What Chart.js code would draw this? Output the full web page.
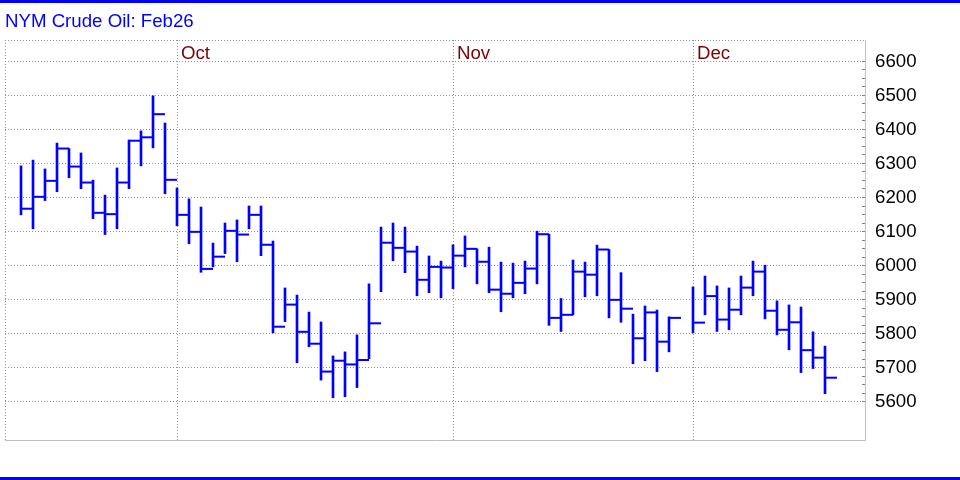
<!DOCTYPE html>
<html>
<head>
<meta charset="utf-8">
<title>NYM Crude Oil: Feb26</title>
<script src="https://cdn.jsdelivr.net/npm/chart.js@4.4.1/dist/chart.umd.min.js"></script>
<style>
  body { margin: 0; background: #fff; }
  #wrap { position: relative; width: 960px; height: 480px; }
  .rule { position: absolute; left: 0; width: 960px; height: 3px; background: #0000ff; }
</style>
</head>
<body>
<div id="wrap">
  <canvas id="chart" width="960" height="480"></canvas>
  <div class="rule" style="top:0"></div>
  <div class="rule" style="top:477px"></div>
</div>
<script>
// daily bars, one slot per weekday from Sep 12; slot 55 is Thanksgiving (no trade)
var highs = [6293, 6310, 6284, 6360, 6344, 6331, 6251, 6207, 6287, 6369, 6396, 6499, 6419,
  6228, 6196, 6172, 6066, 6125, 6134, 6175, 6175, 6072, 5934, 5913, 5863, 5834, 5734, 5746,
  5796, 5946, 6113, 6125, 6113, 6057, 6028, 6013,
  6061, 6087, 6049, 6054, 6010, 6007, 6013, 6101, 6092, 5903, 6016, 6010, 6060, 6047, 5979,
  5857, 5881, 5869, 5849, null,
  5937, 5969, 5940, 5934, 5969, 6013, 6001, 5896, 5884, 5878, 5805, 5763];
var lows = [6149, 6108, 6191, 6217, 6258, 6226, 6138, 6091, 6108, 6226, 6293, 6346, 6211,
  6117, 6064, 5980, 5996, 6035, 6011, 6108, 6029, 5802, 5835, 5714, 5761, 5663, 5611, 5614,
  5641, 5726, 5923, 6014, 5979, 5911, 5920, 5905,
  5932, 5996, 5946, 5920, 5864, 5905, 5917, 5946, 5824, 5806, 5855, 5908, 5911, 5846, 5833,
  5711, 5720, 5688, 5746, null,
  5802, 5855, 5806, 5811, 5855, 5911, 5843, 5796, 5752, 5685, 5697, 5623];
var closes = [6167, 6202, 6249, 6344, 6291, 6244, 6155, 6151, 6244, 6367, 6377, 6445, 6252,
  6149, 6099, 5990, 6026, 6102, 6091, 6149, 6061, 5820, 5885, 5805, 5770, 5688, 5720, 5709,
  5722, 5830, 6067, 6052, 6041, 5958, 5996, 5994,
  6029, 6049, 6011, 5929, 5917, 5949, 5991, 6092, 5846, 5855, 5982, 5973, 6047, 5899, 5873,
  5786, 5862, 5776, 5846, null,
  5832, 5910, 5841, 5870, 5935, 5982, 5867, 5811, 5833, 5751, 5729, 5670];

var monthNames = ["Oct", "Nov", "Dec"];
var monthStart = [13, 36, 56];   // slot of first trading day of each month
var yLabels = [5600, 5700, 5800, 5900, 6000, 6100, 6200, 6300, 6400, 6500, 6600];

var xMin = -4 / 3, xMax = 70 + 1 / 3;
var yMin = 5486.8, yMax = 6663.2;

var font = { family: "'Liberation Sans', Arial, sans-serif", size: 18.67 };
var dotColor = "#909090";

var hlBars = [];
var closeTicks = [];
for (var i = 0; i < highs.length; i++) {
  if (highs[i] == null) continue;
  hlBars.push({ x: i, y: [lows[i], highs[i]] });
  closeTicks.push({ x: i + 0.5, y: closes[i] });
}

var yTicks = [];
for (var v = yLabels[0]; v <= yLabels[yLabels.length - 1]; v += 25) yTicks.push(v);
yTicks.push(yMax);

function noPad(s) {
  s.paddingLeft = 0;
  s.paddingRight = 0;
  s.paddingTop = 0;
  s.paddingBottom = 0;
}

var chart = new Chart(document.getElementById("chart"), {
  type: "bar",
  data: {
    datasets: [
      {
        label: "High-Low",
        data: hlBars,
        backgroundColor: "#0000ff",
        borderWidth: 0,
        barThickness: 2,
        xAxisID: "x",
        yAxisID: "y",
      },
      {
        type: "scatter",
        label: "Close",
        data: closeTicks,
        pointStyle: "line",
        pointRadius: 6,
        borderColor: "#0000ff",
        borderWidth: 2,
        xAxisID: "x",
        yAxisID: "y",
      },
    ],
  },
  options: {
    responsive: false,
    animation: false,
    events: [],
    layout: { autoPadding: false, padding: { left: 5, right: 0, top: 0, bottom: 40 } },
    plugins: {
      legend: { display: false },
      tooltip: { enabled: false },
      title: {
        display: true,
        text: "NYM Crude Oil: Feb26",
        align: "start",
        color: "#0000ff",
        font: { family: font.family, size: font.size, weight: "normal" },
        padding: { top: 10.4, bottom: 7.2 },
      },
    },
    scales: {
      x: {
        type: "linear",
        position: "top",
        min: xMin,
        max: xMax,
        offset: false,
        afterBuildTicks: function (s) {
          s.ticks = [xMin].concat(monthStart).map(function (v) { return { value: v }; });
        },
        afterFit: function (s) { s.height = 0; noPad(s); },
        ticks: {
          autoSkip: false,
          maxRotation: 0,
          mirror: true,
          align: "start",
          labelOffset: 4,
          padding: 3,
          color: "#800000",
          font: font,
          callback: function (v) {
            var k = monthStart.indexOf(v);
            return k < 0 ? "" : monthNames[k];
          },
        },
        grid: { color: dotColor, drawTicks: false, offset: false },
        border: { display: false, dash: [1, 2] },
      },
      xb: {
        type: "linear",
        axis: "x",
        position: "bottom",
        min: xMin,
        max: xMax,
        afterFit: function (s) { s.height = 0; noPad(s); },
        ticks: { display: false },
        grid: { display: false, drawTicks: false },
        border: { display: true, color: "#c0c0c0", width: 1 },
      },
      y: {
        position: "right",
        min: yMin,
        max: yMax,
        afterBuildTicks: function (s) {
          s.ticks = yTicks.map(function (v) { return { value: v }; });
        },
        afterFit: function (s) { s.width = 95; noPad(s); },
        ticks: {
          autoSkip: false,
          padding: 13,
          color: "#000",
          font: font,
          callback: function (v) {
            return yLabels.indexOf(v) < 0 ? "" : String(v);
          },
        },
        grid: {
          drawTicks: true,
          tickLength: -3,
          color: function (ctx) {
            var t = ctx.tick ? ctx.tick.value : null;
            return (yLabels.indexOf(t) >= 0 || t === yMax) ? dotColor : "rgba(0,0,0,0)";
          },
          tickColor: function (ctx) {
            var t = ctx.tick ? ctx.tick.value : null;
            return t === yMax ? "rgba(0,0,0,0)" : "#808080";
          },
        },
        border: { color: "#c0c0c0", dash: [1, 2] },
      },
    },
  },
});
</script>
</body>
</html>
